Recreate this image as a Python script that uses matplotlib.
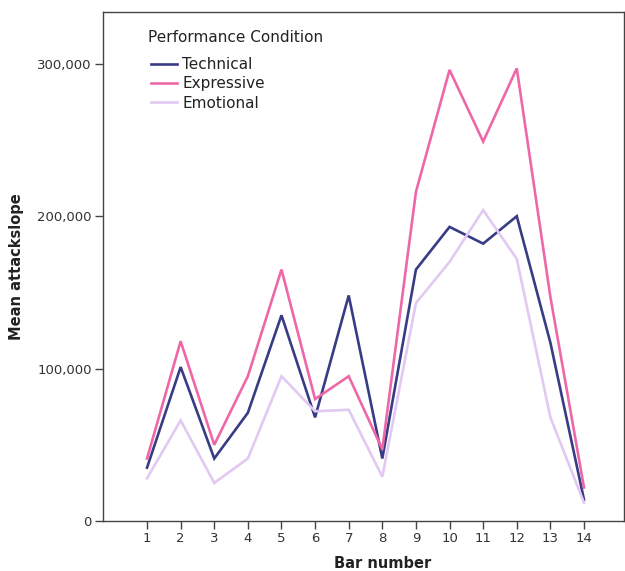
import matplotlib
matplotlib.use("Agg")
import matplotlib.pyplot as plt
from matplotlib.ticker import FuncFormatter

# values
bars = list(range(1, 15))
technical = [35000, 101000, 41000, 71000, 135000, 68000, 148000, 41000,
             165000, 193000, 182000, 200000, 117000, 14000]
expressive = [41000, 118000, 50000, 95000, 165000, 80000, 95000, 47000,
              216000, 296000, 249000, 297000, 147000, 22000]
emotional = [28000, 66000, 25000, 41000, 95000, 72000, 73000, 29000,
             143000, 170000, 204000, 172000, 68000, 12000]
series_names = ["Technical", "Expressive", "Emotional"]
series_colors = ["#383c85", "#ee68a8", "#e2c9f2"]

W, H = 625, 571
plt.rcParams["font.family"] = ["DejaVu Sans"]
fig = plt.figure(figsize=(W / 100, H / 100), dpi=100)
ax = fig.add_axes([103 / W, 1 - 521 / H, 521 / W, 509 / H])

for vals, name, col in zip([technical, expressive, emotional], series_names, series_colors):
    ax.plot(bars, vals, color=col, lw=1.9, label=name, solid_joinstyle="miter")

ax.set_xlim(-0.31, 15.19)
ax.set_ylim(0, 334000)
ax.set_xticks(bars)
ax.set_yticks([0, 100000, 200000, 300000])
ax.yaxis.set_major_formatter(FuncFormatter(lambda v, p: "{:,}".format(int(v))))

for s in ax.spines.values():
    s.set_color("#444444")
    s.set_linewidth(1.0)
ax.tick_params(axis="both", direction="out", length=6, width=1, color="#444444",
               labelsize=9.5, labelcolor="#333333", pad=2)

ax.set_xlabel("Bar number", fontsize=10.5, fontweight="bold", color="#222222")
ax.set_ylabel("Mean attackslope", fontsize=10.5, fontweight="bold", color="#222222")
ax.xaxis.set_label_coords(0.537, -0.068)
ax.yaxis.set_label_coords(-0.152, 0.5)

# legend title drawn separately to get the wider gap
fig.text(148 / W, 1 - 38 / H, "Performance Condition", fontsize=11,
         color="#222222", ha="left", va="center")
leg = fig.legend(loc="upper left", bbox_to_anchor=(151 / W, 1 - 57 / H),
                 frameon=False, fontsize=11, handlelength=1.7,
                 handletextpad=0.33, labelspacing=0.28, borderpad=0,
                 borderaxespad=0)
for t in leg.get_texts():
    t.set_color("#222222")

fig.savefig("out.png", dpi=100)
